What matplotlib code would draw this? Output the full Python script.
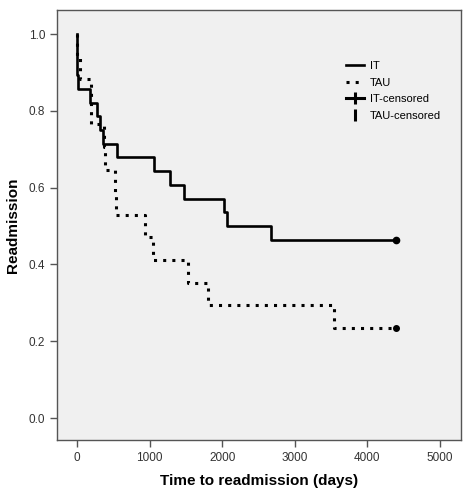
"""Kaplan-Meier style readmission curves, IT vs TAU."""
import matplotlib
matplotlib.use("Agg")
import matplotlib.pyplot as plt
from matplotlib.lines import Line2D

plt.rcParams["font.family"] = ["Liberation Sans", "DejaVu Sans"]

# event times (days) and survival after each step
it_times = [0, 0, 15, 180, 275, 320, 360, 550, 1060, 1280, 1470, 2025, 2065, 2670, 4400]
it_surv = [1.0, 0.893, 0.857, 0.821, 0.786, 0.750, 0.714, 0.679, 0.643, 0.607, 0.571,
           0.536, 0.500, 0.464, 0.464]
it_cens_t = [4400]
it_cens_s = [0.464]

tau_times = [0, 0, 40, 190, 200, 370, 380, 525, 535, 940, 1050, 1530, 1800, 3540, 4400]
tau_surv = [1.0, 0.941, 0.882, 0.824, 0.765, 0.706, 0.647, 0.588, 0.529, 0.471, 0.412,
            0.353, 0.294, 0.235, 0.235]
tau_cens_t = [4400]
tau_cens_s = [0.235]

x_ticks = [0, 1000, 2000, 3000, 4000, 5000]
y_ticks = [0.0, 0.2, 0.4, 0.6, 0.8, 1.0]

INK = "#000000"
FRAME = "#555555"
BG = "#f0f0f0"

fig = plt.figure(figsize=(4.69, 4.93), dpi=100)
ax = fig.add_axes([0.1215, 0.1075, 0.8615, 0.8722])
ax.set_facecolor(BG)

ax.step(tau_times, tau_surv, where="post", color=INK, linewidth=2.2,
        linestyle=(0, (1, 2)))
ax.step(it_times, it_surv, where="post", color=INK, linewidth=1.9)
ax.plot(it_cens_t, it_cens_s, linestyle="none", marker="o", markersize=4.5, color=INK)
ax.plot(tau_cens_t, tau_cens_s, linestyle="none", marker="o", markersize=4, color=INK)

ax.set_xlim(-275, 5290)
ax.set_ylim(-0.057, 1.0625)
ax.set_xticks(x_ticks)
ax.set_yticks(y_ticks)
ax.set_yticklabels([f"{v:.1f}" for v in y_ticks])
ax.tick_params(direction="out", length=5, width=1, color=FRAME,
               labelsize=8.5, labelcolor="#333333")
for sp in ax.spines.values():
    sp.set_color(FRAME)
    sp.set_linewidth(1.0)

ax.set_xlabel("Time to readmission (days)", fontsize=11, fontweight="bold", labelpad=7)
ax.set_ylabel("Readmission", fontsize=11, fontweight="bold", labelpad=6)

handles = [
    Line2D([], [], color=INK, linewidth=1.9),
    Line2D([], [], color=INK, linewidth=2.2, linestyle=(0, (1, 2))),
    Line2D([], [], color=INK, linewidth=2.2, marker="|", markersize=8, markeredgewidth=2.2),
    Line2D([], [], color=INK, linestyle="none", marker="|", markersize=8, markeredgewidth=2.2),
]
labels = ["IT", "TAU", "IT-censored", "TAU-censored"]
ax.legend(handles, labels, loc="upper left", bbox_to_anchor=(0.69, 0.905),
          frameon=False, fontsize=8, handlelength=1.6, handletextpad=0.6,
          labelspacing=0.6)

fig.savefig("out.png", dpi=100)
